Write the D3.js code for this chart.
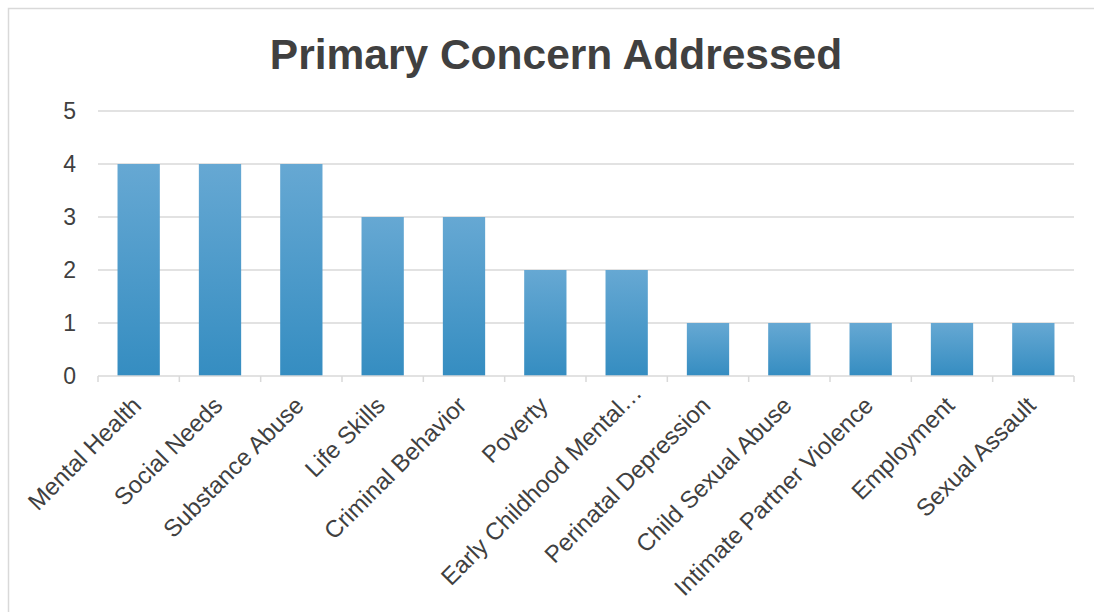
<!DOCTYPE html>
<html>
<head>
<meta charset="utf-8">
<script src="https://cdn.jsdelivr.net/npm/d3@7"></script>
<style>
  html, body { margin: 0; padding: 0; background: #fff; }
  svg { display: block; font-family: "Liberation Sans", Arial, sans-serif; }
</style>
</head>
<body>
<svg id="chart"></svg>
<script>
// chart data
const categories = ["Mental Health", "Social Needs", "Substance Abuse", "Life Skills", "Criminal Behavior",
  "Poverty", "Early Childhood Mental…", "Perinatal Depression", "Child Sexual Abuse",
  "Intimate Partner Violence", "Employment", "Sexual Assault"];
const counts = [4, 4, 4, 3, 3, 2, 2, 1, 1, 1, 1, 1];
const yTicks = [0, 1, 2, 3, 4, 5];
const title = "Primary Concern Addressed";

const width = 1094, height = 612;
const margin = {top: 111, right: 20, bottom: 236, left: 98};

const svg = d3.select("#chart")
  .attr("width", width)
  .attr("height", height);

// outer frame
svg.append("rect")
  .attr("x", 8.5).attr("y", 8.5)
  .attr("width", 1200).attr("height", 800)
  .attr("fill", "#fff")
  .attr("stroke", "#d9d9d9")
  .attr("stroke-width", 1.5);

const defs = svg.append("defs");
const grad = defs.append("linearGradient")
  .attr("id", "barGrad")
  .attr("x1", 0).attr("y1", 0).attr("x2", 0).attr("y2", 1);
grad.append("stop").attr("offset", "0%").attr("stop-color", "#66a8d3");
grad.append("stop").attr("offset", "100%").attr("stop-color", "#358dc1");

const x = d3.scaleBand()
  .domain(categories)
  .range([margin.left, 1074])
  .paddingInner(0.48)
  .paddingOuter(0.24);

const y = d3.scaleLinear()
  .domain([0, 5])
  .range([376, margin.top]);

// gridlines
svg.append("g")
  .selectAll("line")
  .data(yTicks.filter(d => d > 0))
  .join("line")
  .attr("x1", margin.left).attr("x2", 1074)
  .attr("y1", d => y(d)).attr("y2", d => y(d))
  .attr("stroke", "#d9d9d9")
  .attr("stroke-width", 1.5);

// y axis labels
svg.append("g")
  .selectAll("text")
  .data(yTicks)
  .join("text")
  .attr("x", 76)
  .attr("y", d => y(d))
  .attr("dy", "0.35em")
  .attr("text-anchor", "end")
  .attr("fill", "#404040")
  .attr("font-size", 23)
  .text(d => d);

// bars
svg.append("g")
  .selectAll("rect")
  .data(categories)
  .join("rect")
  .attr("x", d => x(d))
  .attr("width", x.bandwidth())
  .attr("y", (d, i) => y(counts[i]))
  .attr("height", (d, i) => y(0) - y(counts[i]))
  .attr("fill", "url(#barGrad)");

// x axis line + ticks
const tickPos = d3.range(categories.length + 1).map(i => margin.left + i * (1074 - margin.left) / categories.length);
const axisG = svg.append("g");
axisG.append("line")
  .attr("x1", margin.left).attr("x2", 1074)
  .attr("y1", y(0)).attr("y2", y(0))
  .attr("stroke", "#d9d9d9").attr("stroke-width", 1.5);
axisG.selectAll(".tk")
  .data(tickPos)
  .join("line")
  .attr("class", "tk")
  .attr("x1", d => d).attr("x2", d => d)
  .attr("y1", y(0)).attr("y2", y(0) + 6)
  .attr("stroke", "#d9d9d9").attr("stroke-width", 1.5);

// category labels (truncated label sits a little further out, like Excel does)
svg.append("g")
  .selectAll("text")
  .data(categories)
  .join("text")
  .attr("transform", d => `translate(${x(d) + x.bandwidth() / 2 - 2},${y(0) + 25}) rotate(-45)`)
  .attr("text-anchor", "end")
  .attr("dy", "0.35em")
  .attr("dx", d => d.endsWith("…") ? 18 : 0)
  .attr("fill", "#404040")
  .attr("font-size", 24)
  .text(d => d);

// title
svg.append("text")
  .attr("x", 556)
  .attr("y", 69)
  .attr("text-anchor", "middle")
  .attr("fill", "#404040")
  .attr("font-size", 42.5)
  .attr("font-weight", "bold")
  .text(title);
</script>
</body>
</html>
